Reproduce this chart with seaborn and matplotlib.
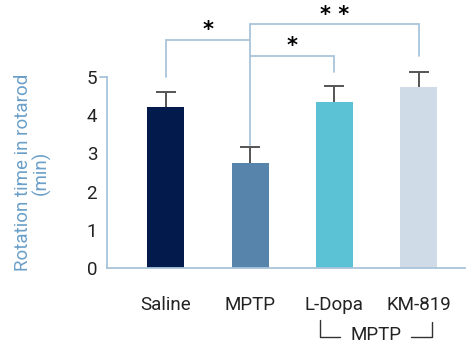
import pandas as pd
import seaborn as sns
import matplotlib.pyplot as plt
from matplotlib.transforms import blended_transform_factory

groups = ['Saline', 'MPTP', 'L-Dopa', 'KM-819']
means = [4.21, 2.75, 4.35, 4.74]
errors = [0.40, 0.42, 0.42, 0.39]
bar_colors = ['#021b4c', '#5784aa', '#5bc2d6', '#cfdbe6']
y_ticks = [0, 1, 2, 3, 4, 5]

line_col = '#a9c4da'
err_col = '#555555'

sns.set_style('white')
plt.rcParams['font.family'] = ['Roboto', 'DejaVu Sans']

fig = plt.figure(figsize=(4.67, 3.47), dpi=100)
ax = fig.add_axes([0.229, 0.228, 0.767, 0.550])

df = pd.DataFrame({'group': groups, 'value': means})
sns.barplot(data=df, x='group', y='value', hue='group', palette=bar_colors,
            width=0.44, errorbar=None, legend=False, saturation=1, linewidth=0,
            ax=ax)
eb = ax.errorbar(range(len(groups)), means, yerr=[[0] * len(groups), errors],
                 fmt='none', ecolor=err_col, elinewidth=1.4, capsize=7.5,
                 capthick=1.4)
# keep only the upper cap
eb.lines[1][0].set_visible(False)
for part in eb.lines[1] + eb.lines[2]:
    part.set_clip_on(False)

ax.set_xlim(-0.7, 3.55)
ax.set_ylim(0, 5)
ax.set_yticks(y_ticks)
ax.tick_params(axis='both', length=0, labelsize=13.5, colors='#222222', pad=7)
ax.tick_params(axis='x', pad=20)
ax.set_xlabel('')
ax.set_ylabel('Rotation time in rotarod\n(min)', color='#6a9fc8', fontsize=13.5,
              linespacing=0.95, labelpad=26)
for s in ['top', 'right']:
    ax.spines[s].set_visible(False)
for s in ['left', 'bottom']:
    ax.spines[s].set_color(line_col)
    ax.spines[s].set_linewidth(1.3)

# little tick at the top of the y spine
tr = blended_transform_factory(ax.transAxes, ax.transData)
ax.plot([-0.018, 0], [5, 5], color=line_col, lw=1.3, transform=tr, clip_on=False)

# significance brackets
kw = dict(color=line_col, lw=1.3, clip_on=False, solid_joinstyle='miter')
ax.plot([0, 0, 1], [5.0, 5.97, 5.97], **kw)
ax.plot([1, 1], [3.22, 6.39], **kw)
ax.plot([1, 2, 2], [5.55, 5.55, 5.14], **kw)
ax.plot([1, 3, 3], [6.39, 6.39, 5.55], **kw)
star = dict(ha='center', va='center', fontsize=15, color='black', fontweight='bold',
            family=['DejaVu Sans'])
ax.text(0.5, 6.22, '*', **star)
ax.text(1.5, 5.82, '*', **star)
ax.text(2.0, 6.62, '* *', **star)

# MPTP group bracket under the labels
bt = blended_transform_factory(ax.transData, fig.transFigure)
gk = dict(color='#333333', lw=1.0, transform=bt, clip_on=False)
ax.plot([1.83, 1.83, 2.07], [0.078, 0.029, 0.029], **gk)
ax.plot([2.91, 3.16, 3.16], [0.029, 0.029, 0.072], **gk)
ax.text(2.49, 0.035, 'MPTP', transform=bt, fontsize=13.5, color='#222222',
        ha='center', va='center')

fig.savefig('out.png', dpi=100)
